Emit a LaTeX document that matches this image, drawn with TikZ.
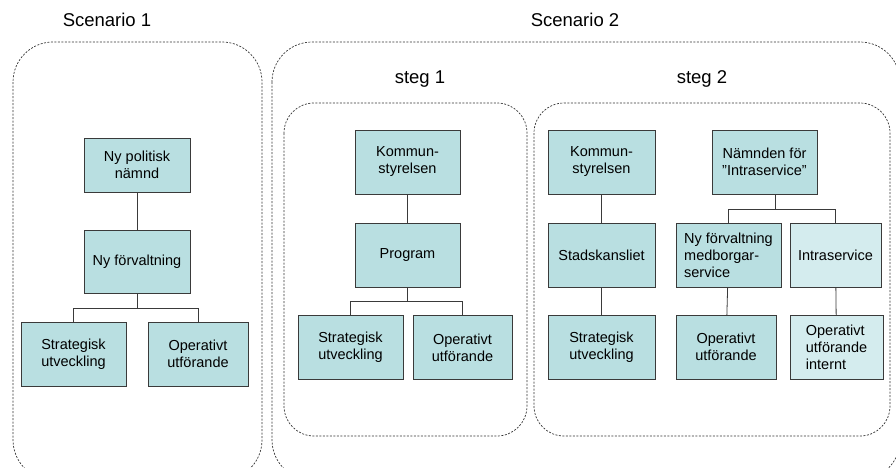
\documentclass[tikz,border=0pt]{standalone}
\usepackage{fontspec}
\setmainfont{Liberation Sans}
\usetikzlibrary{positioning}
\definecolor{boxfill}{HTML}{B9DFE1}
\definecolor{boxlight}{HTML}{D4ECEE}
\definecolor{lineg}{HTML}{3A3A3A}
\begin{document}
\begin{tikzpicture}[x=1pt,y=-1pt, box/.style={draw=lineg,fill=boxfill,minimum width=105pt,minimum height=64pt,align=center,inner sep=1pt,font=\fontsize{14.5}{17}\selectfont}, lightbox/.style={box,fill=boxlight}, frame/.style={draw=black!80,dash pattern=on 2pt off 1.5pt,line width=0.7pt}, title/.style={font=\fontsize{18.5}{22}\selectfont}, tree/.style={draw=lineg,line width=0.8pt}]
\useasboundingbox (0,0) rectangle (896,467);
\clip (0,0) rectangle (896,467);
% frames and titles
\draw[frame,rounded corners=40pt] (13,42) rectangle (262,480);
\draw[frame,rounded corners=40pt] (272,42) rectangle (900,480);
\draw[frame,rounded corners=30pt] (284,103) rectangle (527,436);
\draw[frame,rounded corners=30pt] (534,103) rectangle (890,436);
\node[title] (t1) at (107,20) {Scenario 1};
\node[title] (t2) at (575,20) {Scenario 2};
\node[title] (st1) at (420,79) {steg 1};
\node[title] (st2) at (702,79) {steg 2};
% scenario 1
\node[box,minimum width=106pt,minimum height=54pt] (npn) at (137,165) {Ny politisk\\nämnd};
\node[box,minimum width=106pt,minimum height=63pt] (nf) at (137,261.5) {Ny förvaltning};
\node[box] (su1) at (73.5,354) {Strategisk\\utveckling};
\node[box,minimum width=100pt] (ou1) at (198,354) {Operativt\\utförande};
\draw[tree] (npn)--(nf);\draw[tree] (nf.south)--++(0,15)-|(su1.north);\draw[tree] (nf.south)--++(0,15)-|(ou1.north);
% steg 1
\node[box] (ks1) at (407.5,162) {Kommun-\\styrelsen};
\node[box] (pr) at (407.5,255) {Program};
\node[box] (su2) at (350.5,347.5) {Strategisk\\utveckling};
\node[box,minimum width=99pt] (ou2) at (462.5,347.5) {Operativt\\utförande};
\draw[tree] (ks1)--(pr);\draw[tree] (pr.south)--++(0,14)-|(su2.north);\draw[tree] (pr.south)--++(0,14)-|(ou2.north);
% steg 2
\node[box,minimum width=107pt] (ks2) at (601.5,162) {Kommun-\\styrelsen};
\node[box,minimum width=107pt] (sk) at (601.5,255) {Stadskansliet};
\node[box,minimum width=107pt] (su3) at (601.5,347) {Strategisk\\utveckling};
\node[box] (nis) at (764.5,162) {Nämnden för\\"Intraservice"};
\node[box,align=left] (nfm) at (728.5,255) {Ny förvaltning\\medborgar-\\service};
\node[lightbox,minimum width=91pt] (is) at (835.5,255) {Intraservice};
\node[box,minimum width=100pt] (ou3) at (726,347) {Operativt\\utförande};
\node[lightbox,minimum width=93pt,align=left] (oi) at (836.5,347) {Operativt\\utförande\\internt};
\draw[tree] (ks2)--(sk);\draw[tree] (sk)--(su3);
\draw[tree] ([xshift=11pt]nis.south)--++(0,15)-|(nfm.north);\draw[tree] ([xshift=11pt]nis.south)--++(0,15)-|(is.north);
\draw[tree] (nfm)--(ou3);\draw[tree] (is)--(oi);
\end{tikzpicture}
\end{document}
